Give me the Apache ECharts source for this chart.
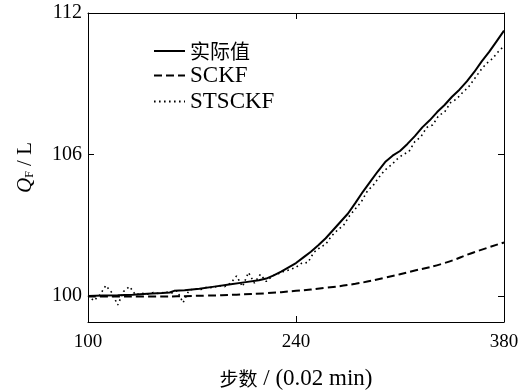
<!DOCTYPE html>
<html>
<head>
<meta charset="utf-8">
<script src="https://cdn.jsdelivr.net/npm/echarts@6/dist/echarts.min.js"></script>
<style>
html,body{margin:0;padding:0;background:#fff;}
#chart{width:529px;height:391px;}
</style>
</head>
<body>
<div id="chart"></div>
<script>
// ---- data ----
var seriesNames = ['实际值', 'SCKF', 'STSCKF'];
var xTickValues = [100, 240, 380];
var yTickValues = [100, 106, 112];

var actualX = [100,110,120,130,140,150,155,158,165,175,185,195,205,215,220,225,230,235,240,245,250,255,260,265,270,275,280,285,290,295,300,305,310,315,320,325,330,335,340,345,350,355,360,365,370,375,380];
var actualY = [100.00,100.02,100.03,100.06,100.10,100.13,100.15,100.22,100.25,100.31,100.40,100.49,100.58,100.67,100.74,100.88,101.04,101.22,101.40,101.64,101.88,102.15,102.45,102.80,103.15,103.50,103.95,104.42,104.85,105.28,105.68,105.95,106.15,106.45,106.78,107.15,107.45,107.80,108.10,108.45,108.75,109.10,109.50,109.95,110.35,110.80,111.25];

var sckfX = [100,140,180,200,220,240,260,280,300,320,340,360,380];
var sckfY = [99.98,99.98,100.02,100.06,100.12,100.22,100.35,100.52,100.78,101.08,101.40,101.86,102.27];

var stsckfX = [100,104,108,112,116,120,124,128,132,136,140,144,148,152,156,160,164,168,172,176,180,184,188,192,196,200,204,208,212,216,220,224,228,232,236,240,244,248,252,256,260,264,268,272,276,280,284,288,292,296,300,304,308,312,316,320,324,328,332,336,340,344,348,352,356,360,364,368,372,376,380];
var stsckfY = [100.02,99.80,100.05,100.45,100.15,99.62,100.20,100.40,100.05,100.12,100.08,100.15,100.10,100.18,100.12,100.22,99.72,100.25,100.30,100.28,100.38,100.35,100.45,100.40,100.55,100.85,100.40,101.00,100.55,100.92,100.62,100.85,100.95,101.05,101.12,101.22,101.40,101.42,101.85,102.05,102.20,102.55,102.80,103.00,103.40,103.70,104.00,104.45,104.70,105.05,105.35,105.55,105.80,106.00,106.12,106.55,106.75,107.15,107.25,107.65,107.80,108.20,108.35,108.62,108.85,109.20,109.55,109.85,110.05,110.35,110.60];

function pairs(xs, ys){ return xs.map(function(x,i){ return [x, ys[i]]; }); }

var FONT = '"Liberation Serif", "Times New Roman", serif';
var CJK = '"Noto Sans CJK SC", sans-serif';
var chart = echarts.init(document.getElementById('chart'));

var baseAxis = {
  type: 'value',
  axisLine: {show: true, onZero: false, lineStyle: {color: '#000', width: 1}},
  axisTick: {show: true, inside: true, length: 6, lineStyle: {color: '#000', width: 1}},
  splitLine: {show: false}
};

chart.setOption({
  animation: false,
  backgroundColor: '#fff',
  grid: {left: 88, right: 25, top: 13, bottom: 69, containLabel: false, outerBoundsMode: 'none'},
  legend: {
    orient: 'vertical', left: 148, top: 36,
    itemWidth: 31, itemHeight: 12, itemGap: 3,
    itemStyle: {opacity: 0},
    formatter: function(n){ return /[\u4e00-\u9fff]/.test(n) ? '{c|' + n + '}' : '{l|' + n + '}'; },
    textStyle: {
      fontFamily: FONT, fontSize: 22, color: '#000',
      rich: {
        c: {fontFamily: CJK, fontSize: 20, color: '#000', lineHeight: 23},
        l: {fontFamily: FONT, fontSize: 23, color: '#000', lineHeight: 23}
      }
    },
    data: seriesNames
  },
  xAxis: [
    Object.assign({}, baseAxis, {
      min: 100, max: 380, position: 'bottom',
      axisTick: Object.assign({}, baseAxis.axisTick, {customValues: xTickValues}),
      axisLabel: {customValues: xTickValues, margin: 11, color: '#000', fontFamily: FONT, fontSize: 19},
      name: '{c|步数}{l| / (0.02 min)}', nameLocation: 'middle', nameGap: 45, nameMoveOverlap: false,
      nameTextStyle: {
        fontFamily: FONT, fontSize: 22, color: '#000',
        rich: {
          c: {fontFamily: CJK, fontSize: 19, color: '#000'},
          l: {fontFamily: FONT, fontSize: 23, color: '#000'}
        }
      }
    }),
    Object.assign({}, baseAxis, {
      min: 100, max: 380, position: 'top',
      axisTick: Object.assign({}, baseAxis.axisTick, {customValues: xTickValues}),
      axisLabel: {show: false}
    })
  ],
  yAxis: [
    Object.assign({}, baseAxis, {
      min: 98.9, max: 112, position: 'left',
      axisTick: Object.assign({}, baseAxis.axisTick, {customValues: yTickValues}),
      axisLabel: {customValues: yTickValues, margin: 6, color: '#000', fontFamily: FONT, fontSize: 20},
      name: '{i|Q}{s|F}{n| / L}', nameLocation: 'middle', nameGap: 52, nameRotate: 90, nameMoveOverlap: false,
      nameTextStyle: {
        fontFamily: FONT, fontSize: 20, color: '#000',
        rich: {
          i: {fontFamily: FONT, fontSize: 21, fontStyle: 'italic', color: '#000'},
          s: {fontFamily: FONT, fontSize: 12, color: '#000', padding: [8, 0, 0, 0]},
          n: {fontFamily: FONT, fontSize: 21, color: '#000'}
        }
      }
    }),
    Object.assign({}, baseAxis, {
      min: 98.9, max: 112, position: 'right',
      axisTick: Object.assign({}, baseAxis.axisTick, {customValues: yTickValues}),
      axisLabel: {show: false}
    })
  ],
  series: [
    {name: seriesNames[0], type: 'line', data: pairs(actualX, actualY), symbol: 'none', smooth: false,
     lineStyle: {color: '#000', width: 2, type: 'solid'}, itemStyle: {color: '#000'}, z: 3},
    {name: seriesNames[1], type: 'line', data: pairs(sckfX, sckfY), symbol: 'none', smooth: true,
     lineStyle: {color: '#000', width: 2, type: [8, 4]}, itemStyle: {color: '#000'}, z: 2},
    {name: seriesNames[2], type: 'line', data: pairs(stsckfX, stsckfY), symbol: 'none', smooth: false,
     lineStyle: {color: '#000', width: 1.6, type: [1.6, 3.4]}, itemStyle: {color: '#000'}, z: 1}
  ]
});
</script>
</body>
</html>
